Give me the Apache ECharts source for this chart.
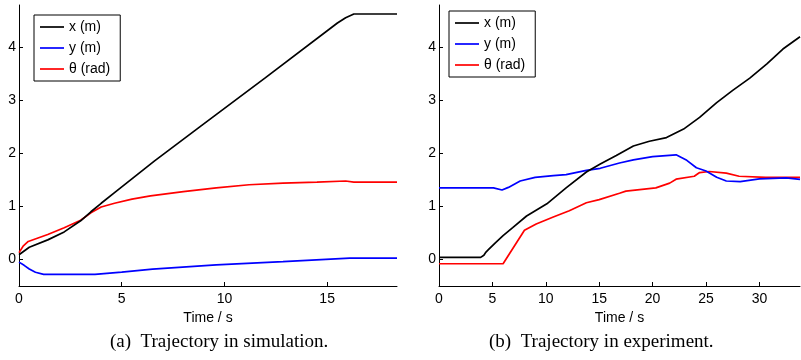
<!DOCTYPE html>
<html>
<head>
<meta charset="utf-8">
<script src="https://cdn.jsdelivr.net/npm/echarts@6.0.0/dist/echarts.min.js"></script>
<style>
  html, body { margin: 0; padding: 0; background: #fff; }
  #chart { width: 801px; height: 360px; }
</style>
</head>
<body>
<div id="chart"></div>
<script>
// ---- data (time in s, value) ----
const seriesNames = ['x (m)', 'y (m)', 'θ (rad)'];
const seriesColors = ['#000000', '#0000ff', '#ff0000'];

const simX = [[0,0.09],[0.5,0.23],[1.4,0.37],[2.2,0.52],[3.0,0.73],[3.5,0.9],[4.0,1.06],[4.65,1.26],[6.6,1.86],[8.8,2.5],[12,3.43],[15.5,4.46],[15.9,4.56],[16.3,4.63],[18.4,4.63]];
const simY = [[0,-0.05],[0.25,-0.11],[0.5,-0.18],[0.8,-0.24],[1.2,-0.28],[3.7,-0.28],[5,-0.24],[6.5,-0.18],[9.6,-0.1],[12.85,-0.04],[16.1,0.025],[18.4,0.025]];
const simTheta = [[0,0.13],[0.2,0.25],[0.45,0.34],[1.4,0.47],[2.2,0.6],[3.0,0.74],[3.5,0.88],[4.0,0.99],[4.65,1.06],[5.5,1.14],[6.4,1.2],[8,1.28],[9.6,1.35],[11.2,1.41],[12.85,1.44],[14.5,1.46],[15.9,1.48],[16.3,1.46],[18.4,1.46]];

const expX = [[0,0.04],[3.9,0.04],[4.2,0.08],[4.4,0.14],[4.6,0.18],[5.3,0.32],[6.0,0.45],[6.9,0.6],[8.2,0.82],[10.1,1.05],[11.9,1.35],[13.8,1.65],[15.1,1.8],[16.6,1.96],[18.2,2.14],[19.7,2.23],[21.3,2.3],[22.9,2.46],[24.4,2.68],[26,2.96],[27.5,3.19],[29.1,3.42],[30.7,3.69],[32.2,3.97],[33.8,4.2]];
const expY = [[0,1.35],[5.1,1.35],[5.9,1.31],[6.5,1.36],[7.6,1.48],[9,1.55],[10.7,1.58],[11.9,1.6],[13.8,1.68],[15.1,1.72],[16.9,1.82],[18.2,1.88],[20,1.94],[22.2,1.975],[23.2,1.87],[24.1,1.73],[25,1.67],[26,1.55],[26.9,1.48],[28.2,1.47],[30,1.52],[32.5,1.54],[33.8,1.51]];
const expTheta = [[0,-0.08],[6.0,-0.08],[8.0,0.55],[9.1,0.67],[10.7,0.8],[12.2,0.92],[13.8,1.07],[15,1.13],[16.9,1.25],[17.5,1.29],[20.3,1.35],[21.6,1.44],[22.2,1.515],[23.9,1.57],[24.4,1.64],[25.3,1.66],[26.9,1.63],[28.1,1.57],[30.6,1.55],[33.8,1.55]];

const yTicks = [0, 1, 2, 3, 4];
const simXTicks = [0, 5, 10, 15];
const expXTicks = [0, 5, 10, 15, 20, 25, 30];
const xAxisName = 'Time / s';
const captions = ['(a)  Trajectory in simulation.', '(b)  Trajectory in experiment.'];

// ---- chart ----
const FONT = 'Liberation Sans, Arial, Helvetica, sans-serif';
const chart = echarts.init(document.getElementById('chart'), null, { renderer: 'canvas' });

function xAxis(gridIndex, max, ticks) {
  return {
    type: 'value', gridIndex, min: 0, max,
    name: xAxisName, nameLocation: 'middle', nameGap: 17,
    nameTextStyle: { color: '#000', fontSize: 14, fontFamily: FONT },
    axisLine: { show: true, onZero: false, lineStyle: { color: '#000', width: 1 } },
    axisTick: { show: true, inside: true, length: 4, customValues: ticks, lineStyle: { color: '#000' } },
    axisLabel: { show: true, customValues: ticks, margin: 6, color: '#000', fontSize: 14, fontFamily: FONT },
    splitLine: { show: false }
  };
}
function yAxis(gridIndex) {
  return {
    type: 'value', gridIndex, min: -0.5, max: 4.8,
    axisLine: { show: true, onZero: false, lineStyle: { color: '#000', width: 1 } },
    axisTick: { show: true, inside: true, length: 4, customValues: yTicks, lineStyle: { color: '#000' } },
    axisLabel: { show: true, customValues: yTicks, margin: 3, color: '#000', fontSize: 14, fontFamily: FONT },
    splitLine: { show: false }
  };
}
function line(name, color, data, idx) {
  return {
    type: 'line', name, data, xAxisIndex: idx, yAxisIndex: idx,
    showSymbol: false, symbol: 'none', smooth: false,
    lineStyle: { color, width: 1.7 }, itemStyle: { color },
    z: name === 'x (m)' ? 4 : (name === 'y (m)' ? 3 : 2)
  };
}
function legend(left, top) {
  return {
    orient: 'vertical', left, top, data: seriesNames,
    icon: 'rect', itemWidth: 24, itemHeight: 1.7, itemGap: 5,
    padding: [4, 10, 4, 6],
    backgroundColor: '#fff', borderColor: '#000', borderWidth: 1, borderRadius: 0,
    textStyle: { color: '#000', fontSize: 14, fontFamily: FONT, lineHeight: 16 },
    selectedMode: false
  };
}

const option = {
  animation: false,
  backgroundColor: '#fff',
  grid: [
    { left: 19, top: 5, width: 378, height: 281 },
    { left: 439, top: 5, width: 361, height: 281 }
  ],
  xAxis: [xAxis(0, 18.4, simXTicks), xAxis(1, 33.8, expXTicks)],
  yAxis: [yAxis(0), yAxis(1)],
  legend: [legend(34, 15), legend(449, 11)],
  series: [
    line(seriesNames[0], seriesColors[0], simX, 0),
    line(seriesNames[1], seriesColors[1], simY, 0),
    line(seriesNames[2], seriesColors[2], simTheta, 0),
    line(seriesNames[0], seriesColors[0], expX, 1),
    line(seriesNames[1], seriesColors[1], expY, 1),
    line(seriesNames[2], seriesColors[2], expTheta, 1)
  ],
  graphic: [
    { type: 'text', left: 110, top: 333, style: { text: captions[0], fill: '#000', font: '19px "Liberation Serif", "Times New Roman", serif' } },
    { type: 'text', left: 489, top: 333, style: { text: captions[1], fill: '#000', font: '19px "Liberation Serif", "Times New Roman", serif' } }
  ]
};
chart.setOption(option);
</script>
</body>
</html>
